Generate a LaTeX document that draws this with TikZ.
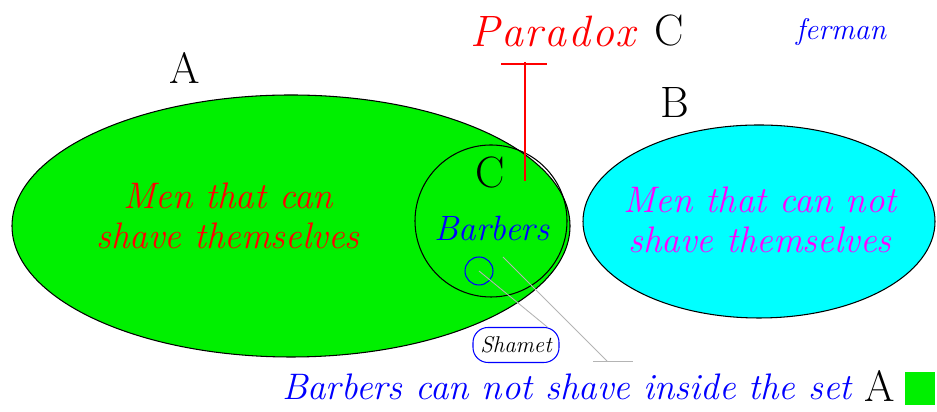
\documentclass[tikz,border=0pt]{standalone}
\usepackage{tikz}
\usetikzlibrary{positioning}
\definecolor{Verde}{HTML}{00F000}
\definecolor{Cian}{HTML}{00FFFF}
\definecolor{Rojo}{HTML}{FF0000}
\definecolor{Azul}{HTML}{0000FF}
\definecolor{Magenta}{HTML}{FF00FF}
\definecolor{Gris}{HTML}{B4B4B4}

\begin{document}
\begin{tikzpicture}[
  setletter/.style={font=\fontsize{25}{30}\selectfont},
  settext/.style={font=\fontsize{21}{23}\selectfont\itshape,align=center},
  outline/.style={draw=black,line width=0.6pt},
  pointer/.style={draw=Gris,line width=0.5pt}
]
  \useasboundingbox (0,0) rectangle (18.74,8.24);

  % sets
  \draw[outline,fill=Verde] (5.82,3.72) ellipse (5.58 and 2.62);
  \draw[outline] (9.82,3.82) circle (1.52);
  \draw[outline,fill=Cian] (15.18,3.81) ellipse (3.52 and 1.93);

  \node[setletter] (lblA) at (3.70,6.88) {A};
  \node[setletter] (lblB) at (13.50,6.18) {B};
  \node[setletter] (lblC) at (9.80,4.78) {C};

  \node[settext,Rojo] (men) at (4.56,3.92) {Men that can\\shave themselves};
  \node[settext,Magenta] (menNot) at (15.20,3.84) {Men that can not\\shave themselves};
  \node[settext,Azul,font=\fontsize{20}{23}\selectfont\itshape] (barbers) at (9.84,3.68) {Barbers};

  % paradox marker
  \node[Rojo,font=\fontsize{25}{30}\selectfont\itshape] (paradox) at (11.06,7.62)
    {P\kern1pt a\kern1pt r\kern1pt a\kern1pt d\kern1pt o\kern1pt x};
  \node[setletter,right=0.12 of paradox] (lblP) {C};
  \node[Azul,font=\fontsize{17}{20}\selectfont\itshape] (ferman) at (16.82,7.60) {ferman};
  \coordinate (redTop) at (10.50,7.00);
  \coordinate (redTip) at (10.50,4.62);
  \draw[Rojo,line width=0.8pt] (redTop) -- (redTip);
  \draw[Rojo,line width=0.8pt] (10.02,6.96) -- (10.94,6.96);

  % shamet
  \node[draw=Azul,circle,line width=0.6pt,minimum size=0.56cm,inner sep=0pt] (inner) at (9.58,2.82) {};
  \node[draw=Azul,rounded corners=0.3cm,line width=0.6pt,minimum width=1.72cm,minimum height=0.7cm,
        font=\fontsize{13}{14}\selectfont\itshape] (shamet) at (10.32,1.34) {Shamet};
  \draw[pointer] (inner.center) -- (shamet.30);
  \coordinate (ptrStart) at (10.06,3.10);
  \coordinate (ptrEnd) at (12.14,1.02);
  \draw[pointer] (ptrStart) -- (ptrEnd);
  \draw[pointer] (11.86,1.02) -- (12.66,1.02);

  % caption
  \node[settext,Azul] (caption) at (11.34,0.50) {Barbers can not shave inside the set};
  \node[setletter] (lblCap) at (17.60,0.52) {A};
  \fill[Verde] (18.10,0.14) rectangle (18.70,0.80);
\end{tikzpicture}
\end{document}
